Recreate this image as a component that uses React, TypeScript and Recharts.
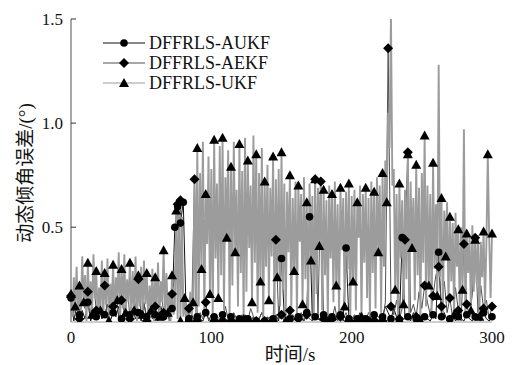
import { LineChart, Line, XAxis, YAxis, Legend } from "recharts";

// DFFRLS-UKF, sampled every 1 s (t = 0..300)
const ukfValues = [
  0.18, 0.07, 0.26, 0.12, 0.31, 0.06, 0.22, 0.09, 0.36, 0.14,
  0.27, 0.05, 0.33, 0.11, 0.24, 0.08, 0.37, 0.16, 0.29, 0.06,
  0.21, 0.1, 0.34, 0.07, 0.28, 0.13, 0.35, 0.05, 0.23, 0.12,
  0.32, 0.08, 0.26, 0.15, 0.38, 0.06, 0.3, 0.11, 0.37, 0.09,
  0.25, 0.14, 0.33, 0.07, 0.29, 0.1, 0.36, 0.05, 0.27, 0.12,
  0.31, 0.08, 0.34, 0.13, 0.28, 0.06, 0.22, 0.1, 0.3, 0.05,
  0.26, 0.11, 0.33, 0.07, 0.24, 0.14, 0.39, 0.06, 0.28, 0.09,
  0.19, 0.05, 0.27, 0.08, 0.12, 0.58, 0.06, 0.62, 0.05, 0.55,
  0.07, 0.16, 0.05, 0.12, 0.06, 0.19, 0.08, 0.14, 0.72, 0.06,
  0.88, 0.12, 0.76, 0.3, 0.91, 0.08, 0.66, 0.42, 0.84, 0.18,
  0.78, 0.05, 0.92, 0.35, 0.71, 0.16, 0.89, 0.27, 0.93, 0.1,
  0.74, 0.45, 0.87, 0.07, 0.79, 0.22, 0.91, 0.38, 0.68, 0.12,
  0.9, 0.28, 0.77, 0.06, 0.93, 0.19, 0.82, 0.4, 0.7, 0.14,
  0.94, 0.33, 0.85, 0.09, 0.76, 0.24, 0.88, 0.05, 0.72, 0.31,
  0.8, 0.15, 0.69, 0.36, 0.84, 0.08, 0.73, 0.26, 0.78, 0.12,
  0.86, 0.2, 0.71, 0.05, 0.67, 0.38, 0.75, 0.11, 0.64, 0.29,
  0.72, 0.07, 0.7, 0.43, 0.66, 0.13, 0.74, 0.25, 0.62, 0.09,
  0.71, 0.34, 0.65, 0.06, 0.73, 0.18, 0.69, 0.41, 0.74, 0.1,
  0.68, 0.27, 0.63, 0.05, 0.7, 0.35, 0.66, 0.14, 0.72, 0.22,
  0.61, 0.08, 0.69, 0.39, 0.64, 0.12, 0.67, 0.3, 0.71, 0.06,
  0.65, 0.24, 0.68, 0.1, 0.62, 0.45, 0.7, 0.07, 0.66, 0.33,
  0.69, 0.16, 0.64, 0.05, 0.72, 0.28, 0.67, 0.11, 0.74, 0.38,
  0.7, 0.09, 0.76, 0.31, 0.82, 0.62, 1.05, 0.88, 1.52, 0.7,
  0.78, 0.2, 0.66, 0.06, 0.71, 0.35, 0.63, 0.13, 0.68, 0.25,
  0.85, 0.08, 0.72, 0.4, 0.64, 0.15, 0.8, 0.27, 0.69, 0.05,
  0.76, 0.33, 0.94, 0.12, 0.7, 0.22, 0.66, 0.09, 0.81, 0.3,
  0.61, 0.17, 1.28, 0.26, 0.64, 0.07, 0.58, 0.36, 0.62, 0.14,
  0.55, 0.24, 0.52, 0.08, 0.57, 0.31, 0.49, 0.12, 0.5, 0.2,
  0.97, 0.06, 0.47, 0.28, 0.45, 0.1, 0.51, 0.19, 0.44, 0.23,
  0.46, 0.07, 0.43, 0.26, 0.48, 0.13, 0.42, 0.85, 0.45, 0.16,
  0.47,
];

// DFFRLS-AEKF, sampled every 2 s
const aekfValues = [
  0.17, 0.09, 0.21, 0.06, 0.14, 0.11, 0.19, 0.07, 0.24, 0.1,
  0.13, 0.08, 0.22, 0.05, 0.16, 0.12, 0.2, 0.07, 0.15, 0.09,
  0.23, 0.06, 0.18, 0.11, 0.25, 0.08, 0.14, 0.05, 0.19, 0.1,
  0.12, 0.07, 0.21, 0.09, 0.16, 0.05, 0.18, 0.26, 0.61, 0.63,
  0.17, 0.06, 0.11, 0.08, 0.73, 0.05, 0.09, 0.06, 0.14, 0.05,
  0.08, 0.05, 0.07, 0.06, 0.05, 0.12, 0.06, 0.05, 0.09, 0.06,
  0.05, 0.08, 0.06, 0.05, 0.11, 0.07, 0.05, 0.06, 0.09, 0.05,
  0.06, 0.07, 0.05, 0.44, 0.06, 0.08, 0.05, 0.06, 0.1, 0.05,
  0.07, 0.06, 0.09, 0.05, 0.08, 0.06, 0.05, 0.73, 0.07, 0.72,
  0.06, 0.05, 0.08, 0.06, 0.12, 0.05, 0.07, 0.06, 0.09, 0.05,
  0.06, 0.08, 0.05, 0.07, 0.06, 0.05, 0.09, 0.06, 0.05, 0.08,
  0.06, 0.05, 0.14, 1.36, 0.12, 0.08, 0.15, 0.06, 0.11, 0.44,
  0.86, 0.09, 0.13, 0.07, 0.19, 0.11, 0.22, 0.14, 0.08, 0.17,
  0.27, 0.31, 0.12, 0.24, 0.09, 0.16, 0.06, 0.21, 0.1, 0.05,
  0.42, 0.13, 0.07, 0.18, 0.45, 0.09, 0.22, 0.11, 0.15, 0.06,
  0.12,
];

// DFFRLS-AUKF, sampled every 2 s
const aukfValues = [
  0.16, 0.05, 0.12, 0.08, 0.1, 0.06, 0.14, 0.05, 0.09, 0.07,
  0.11, 0.06, 0.08, 0.13, 0.05, 0.09, 0.07, 0.12, 0.06, 0.1,
  0.05, 0.08, 0.11, 0.06, 0.09, 0.05, 0.13, 0.07, 0.1, 0.06,
  0.08, 0.05, 0.12, 0.07, 0.09, 0.06, 0.11, 0.5, 0.6, 0.52,
  0.62, 0.1, 0.06, 0.08, 0.05, 0.07, 0.06, 0.05, 0.09, 0.06,
  0.05, 0.07, 0.06, 0.05, 0.08, 0.06, 0.05, 0.07, 0.06, 0.05,
  0.06, 0.05, 0.08, 0.06, 0.05, 0.07, 0.05, 0.06, 0.09, 0.05,
  0.07, 0.05, 0.06, 0.08, 0.05, 0.35, 0.07, 0.05, 0.06, 0.08,
  0.05, 0.07, 0.06, 0.05, 0.09, 0.55, 0.05, 0.07, 0.06, 0.05,
  0.08, 0.05, 0.06, 0.07, 0.05, 0.06, 0.08, 0.05, 0.4, 0.06,
  0.05, 0.07, 0.06, 0.09, 0.05, 0.06, 0.07, 0.05, 0.08, 0.06,
  0.05, 0.07, 0.12, 0.09, 0.06, 0.11, 0.07, 0.05, 0.45, 0.06,
  0.07, 0.05, 0.09, 0.06, 0.08, 0.05, 0.07, 0.06, 0.05, 0.08,
  0.06, 0.38, 0.07, 0.09, 0.05, 0.06, 0.08, 0.05, 0.07, 0.06,
  0.05, 0.08, 0.06, 0.05, 0.07, 0.06, 0.05, 0.09, 0.06, 0.05,
  0.07,
];

const seriesNames = ["DFFRLS-AUKF", "DFFRLS-AEKF", "DFFRLS-UKF"];
const seriesColors = ["#111111", "#505050", "#9c9c9c"];
const xTicks = [0, 100, 200, 300];
const yTicks = [0.5, 1.0, 1.5];

const ukfData = ukfValues.map((v, i) => ({ t: i, v }));
const aekfData = aekfValues.map((v, i) => ({ t: i * 2, v }));
const aukfData = aukfValues.map((v, i) => ({ t: i * 2, v }));

const FONT = "'Liberation Serif', 'Times New Roman', 'Noto Sans CJK SC', serif";

function Marker({ kind, cx, cy }: { kind: number; cx: number; cy: number }) {
  if (kind === 0) return <circle cx={cx} cy={cy} r={3.8} fill="#000" />;
  if (kind === 1)
    return (
      <polygon
        points={`${cx},${cy - 5} ${cx + 5},${cy} ${cx},${cy + 5} ${cx - 5},${cy}`}
        fill="#000"
      />
    );
  return (
    <polygon
      points={`${cx},${cy - 5} ${cx + 5},${cy + 4} ${cx - 5},${cy + 4}`}
      fill="#000"
    />
  );
}

// markers only on part of the samples, like the original figure
const makeDot = (kind: number, every: number) => (p: any) => {
  const v = p.payload.v;
  const show =
    kind === 2 ? p.index % every === 0 && v < 1.2 : p.index % every === 0 || v > 0.3;
  return show ? (
    <Marker key={`m${kind}-${p.index}`} kind={kind} cx={p.cx} cy={p.cy} />
  ) : (
    <g key={`m${kind}-${p.index}`} />
  );
};

const XTick = ({ x, y, payload }: any) => (
  <text x={x} y={y + 21} textAnchor="middle" fontSize={17} fontFamily={FONT} fill="#111">
    {payload.value}
  </text>
);

const YTick = ({ x, y, payload }: any) => (
  <g>
    <line x1={x} x2={x + 5} y1={y} y2={y} stroke="#333" />
    <text x={x - 8} y={y + 6} textAnchor="end" fontSize={17} fontFamily={FONT} fill="#111">
      {payload.value.toFixed(1)}
    </text>
  </g>
);

const renderLegend = () => (
  <div style={{ fontFamily: FONT, fontSize: 18, color: "#111" }}>
    {seriesNames.map((name, i) => (
      <div key={name} style={{ display: "flex", alignItems: "center", height: 20 }}>
        <svg width={44} height={20}>
          <line x1={0} x2={42} y1={10} y2={10} stroke={seriesColors[i]} strokeWidth={1.2} />
          <Marker kind={i} cx={21} cy={10} />
        </svg>
        <span style={{ marginLeft: 2, lineHeight: "20px" }}>{name}</span>
      </div>
    ))}
  </div>
);

export default function App() {
  return (
    <div style={{ position: "absolute", left: 0, top: 0, width: 522, height: 365, background: "#fff" }}>
      <LineChart width={522} height={365} margin={{ top: 19, right: 30, bottom: 0, left: 0 }}>
        <XAxis
          type="number"
          dataKey="t"
          domain={[0, 300]}
          ticks={xTicks}
          height={43}
          tickSize={0}
          tickMargin={0}
          tick={XTick}
          axisLine={{ stroke: "#9c9c9c" }}
          allowDuplicatedCategory={false}
        />
        <YAxis
          type="number"
          domain={[0.045, 1.5]}
          allowDataOverflow
          ticks={yTicks}
          width={71}
          tickSize={0}
          tickMargin={0}
          tick={YTick}
          axisLine={{ stroke: "#8a8a8a", strokeWidth: 1.5 }}
        />
        <Line
          data={aukfData}
          dataKey="v"
          name={seriesNames[0]}
          stroke={seriesColors[0]}
          strokeWidth={1}
          dot={makeDot(0, 3)}
          activeDot={false}
          isAnimationActive={false}
        />
        <Line
          data={aekfData}
          dataKey="v"
          name={seriesNames[1]}
          stroke={seriesColors[1]}
          strokeWidth={1}
          dot={makeDot(1, 3)}
          activeDot={false}
          isAnimationActive={false}
        />
        <Line
          data={ukfData}
          dataKey="v"
          name={seriesNames[2]}
          stroke={seriesColors[2]}
          strokeWidth={1.9}
          dot={makeDot(2, 3)}
          activeDot={false}
          isAnimationActive={false}
        />
        <Legend
          layout="horizontal"
          align="center"
          verticalAlign="middle"
          content={renderLegend}
          wrapperStyle={{ left: 103, top: 33, width: 220, height: 60 }}
        />
      </LineChart>
      <div
        style={{
          position: "absolute",
          left: 23,
          top: 173,
          transform: "translate(-50%, -50%) rotate(-90deg)",
          whiteSpace: "nowrap",
          fontFamily: FONT,
          fontSize: 19,
          color: "#111",
        }}
      >
        动态倾角误差/(°)
      </div>
      <div
        style={{
          position: "absolute",
          left: 290,
          top: 352,
          transform: "translate(-50%, -50%)",
          whiteSpace: "nowrap",
          fontFamily: FONT,
          fontSize: 19,
          color: "#111",
        }}
      >
        时间/s
      </div>
    </div>
  );
}
